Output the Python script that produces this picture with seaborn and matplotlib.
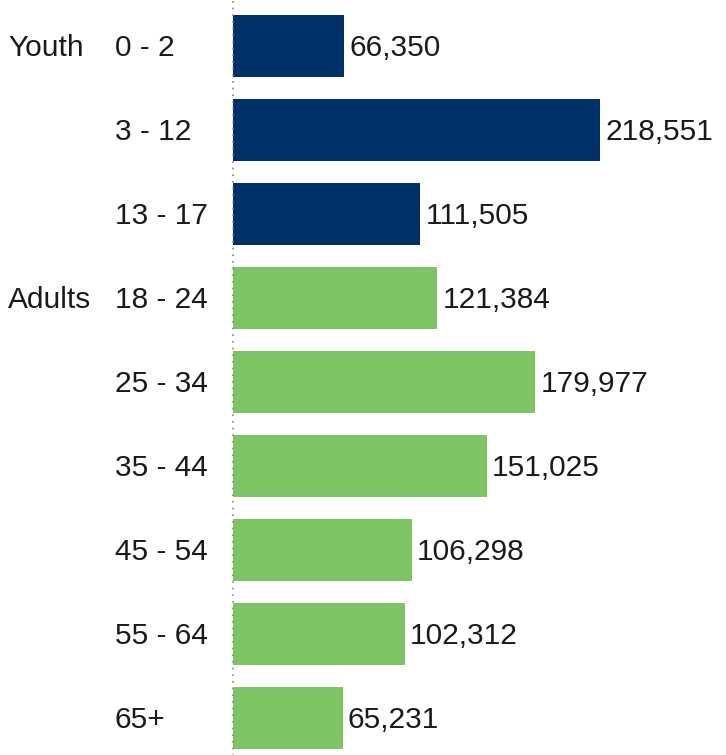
import matplotlib
matplotlib.use("Agg")
import matplotlib.pyplot as plt
import matplotlib.transforms as mtrans
import seaborn as sns
import pandas as pd

ages = ["0 - 2", "3 - 12", "13 - 17", "18 - 24", "25 - 34", "35 - 44", "45 - 54", "55 - 64", "65+"]
values = [66350, 218551, 111505, 121384, 179977, 151025, 106298, 102312, 65231]
groups = ["Youth", "Youth", "Youth", "Adults", "Adults", "Adults", "Adults", "Adults", "Adults"]
group_labels = {"Youth": 0, "Adults": 3}
palette = {"Youth": "#00306A", "Adults": "#7DC462"}

df = pd.DataFrame({"age": ages, "value": values, "group": groups})

sns.set_style("white")
plt.rcParams["font.family"] = ["Liberation Sans", "DejaVu Sans"]

W, H = 726, 755
fig = plt.figure(figsize=(W / 100, H / 100), dpi=100)
left_px, top_px = 233, 4
ax = fig.add_axes([left_px / W, 0, (W - left_px) / W, (H - top_px) / H])

sns.barplot(data=df, y="age", x="value", hue="group", palette=palette, dodge=False,
            orient="h", width=0.74, ax=ax, legend=False, edgecolor="none", saturation=1)

x_max = (W - left_px) / 367 * 218551
ax.set_xlim(0, x_max)
ax.set_ylim(-0.5 + (H - top_px) / 84, -0.5)

FS = 21.5
for i, v in enumerate(values):
    ax.text(v + x_max * 0.011, i + 0.02, f"{v:,}", va="center", ha="left", fontsize=FS, color="#1a1a1a")

ax.set_yticks([])
ax.set_xticks([])
ax.set_xlabel("")
ax.set_ylabel("")
for s in ax.spines.values():
    s.set_visible(False)
ax.axvline(0, ls=(0, (1, 3)), color="#888888", lw=1.2, ymin=-0.01, ymax=1.01, clip_on=False)

trans = mtrans.blended_transform_factory(fig.transFigure, ax.transData)
for i, a in enumerate(ages):
    fig.text(115 / W, i + 0.02, a, transform=trans, fontsize=FS, va="center", ha="left", color="#1a1a1a")
for g, i in group_labels.items():
    fig.text(8 / W, i + 0.02, g, transform=trans, fontsize=FS, va="center", ha="left", color="#1a1a1a")

fig.savefig("out.png", dpi=100)
